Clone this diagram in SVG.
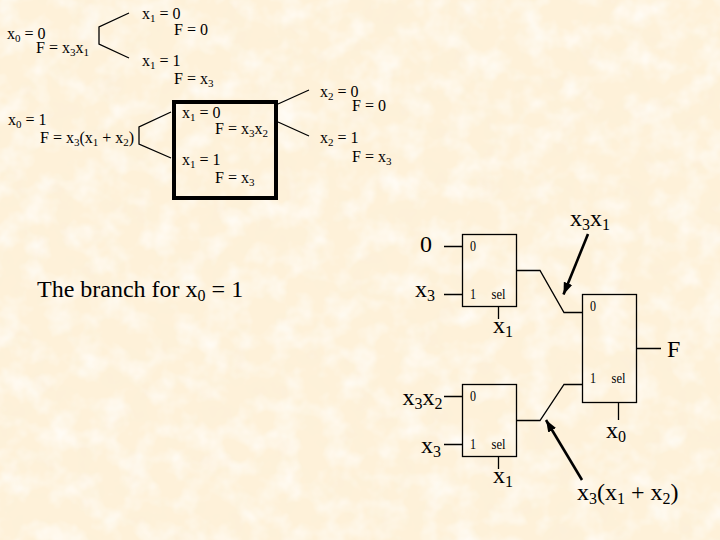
<svg xmlns="http://www.w3.org/2000/svg" width="720" height="540" viewBox="0 0 720 540">
<defs>
<style>
text{font-family:"Liberation Serif","Times New Roman",serif;fill:#000}
.s{font-size:16px}.l{font-size:24px}.t{font-size:14px}
.w{fill:none;stroke:#000;stroke-width:1.3}
.b{fill:none;stroke:#000;stroke-width:1.3}
.a{stroke:#000;stroke-width:2.6;fill:none;marker-end:url(#ah)}
</style>
<marker id="ah" markerUnits="userSpaceOnUse" markerWidth="14" markerHeight="14" refX="12" refY="5" orient="auto"><path d="M0 0.5L12 5L0 9.5Z" fill="#000"/></marker>
<filter id="dark" x="0" y="0" width="100%" height="100%"><feTurbulence type="fractalNoise" baseFrequency="0.04" numOctaves="3" seed="4"/><feColorMatrix values="0 0 0 0 0.97  0 0 0 0 0.87  0 0 0 0 0.7  1.6 0 0 0 -0.65"/></filter>
<filter id="light" x="0" y="0" width="100%" height="100%"><feTurbulence type="fractalNoise" baseFrequency="0.04" numOctaves="3" seed="11"/><feColorMatrix values="0 0 0 0 1  0 0 0 0 0.98  0 0 0 0 0.94  1.8 0 0 0 -0.75"/></filter>
</defs>
<rect width="720" height="540" fill="#fef1d9"/>
<rect width="720" height="540" filter="url(#dark)"/>
<rect width="720" height="540" filter="url(#light)"/>

<g id="tree">
<text class="s" x="7" y="39">x<tspan font-size="11" dy="3">0</tspan><tspan dy="-3"> = 0</tspan></text>
<text class="s" x="36" y="52.5">F = x<tspan font-size="11" dy="3">3</tspan><tspan dy="-3">x</tspan><tspan font-size="11" dy="3">1</tspan></text>
<text class="s" x="142" y="18.5">x<tspan font-size="11" dy="3">1</tspan><tspan dy="-3"> = 0</tspan></text>
<text class="s" x="174" y="34.5">F = 0</text>
<text class="s" x="142" y="66">x<tspan font-size="11" dy="3">1</tspan><tspan dy="-3"> = 1</tspan></text>
<text class="s" x="174" y="83.5">F = x<tspan font-size="11" dy="3">3</tspan></text>
<text class="s" x="8" y="124.5">x<tspan font-size="11" dy="3">0</tspan><tspan dy="-3"> = 1</tspan></text>
<text class="s" x="40" y="142.5">F = x<tspan font-size="11" dy="3">3</tspan><tspan dy="-3">(x</tspan><tspan font-size="11" dy="3">1</tspan><tspan dy="-3"> + x</tspan><tspan font-size="11" dy="3">2</tspan><tspan dy="-3">)</tspan></text>
<text class="s" x="182" y="117.5">x<tspan font-size="11" dy="3">1</tspan><tspan dy="-3"> = 0</tspan></text>
<text class="s" x="215" y="134">F = x<tspan font-size="11" dy="3">3</tspan><tspan dy="-3">x</tspan><tspan font-size="11" dy="3">2</tspan></text>
<text class="s" x="182" y="165">x<tspan font-size="11" dy="3">1</tspan><tspan dy="-3"> = 1</tspan></text>
<text class="s" x="215" y="183">F = x<tspan font-size="11" dy="3">3</tspan></text>
<text class="s" x="320" y="96.5">x<tspan font-size="11" dy="3">2</tspan><tspan dy="-3"> = 0</tspan></text>
<text class="s" x="352" y="111">F = 0</text>
<text class="s" x="320" y="142.5">x<tspan font-size="11" dy="3">2</tspan><tspan dy="-3"> = 1</tspan></text>
<text class="s" x="352" y="161.5">F = x<tspan font-size="11" dy="3">3</tspan></text>
<rect x="174" y="102" width="102" height="96" fill="none" stroke="#000" stroke-width="4"/>
</g>

<g id="caption"><text class="l" x="37" y="297">The branch for x<tspan font-size="16" dy="4">0</tspan><tspan dy="-4"> = 1</tspan></text></g>

<g id="mux-top">
<rect class="b" x="462.5" y="234.5" width="54" height="72"/>
<text class="t" x="470" y="251" textLength="6" lengthAdjust="spacingAndGlyphs">0</text>
<text class="t" x="470" y="299" textLength="6" lengthAdjust="spacingAndGlyphs">1</text>
<text class="t" x="491.5" y="299" textLength="14" lengthAdjust="spacingAndGlyphs">sel</text>
</g>
<g id="mux-bottom">
<rect class="b" x="462.5" y="384.5" width="54" height="72"/>
<text class="t" x="470" y="401" textLength="6" lengthAdjust="spacingAndGlyphs">0</text>
<text class="t" x="470" y="449" textLength="6" lengthAdjust="spacingAndGlyphs">1</text>
<text class="t" x="491.5" y="449" textLength="14" lengthAdjust="spacingAndGlyphs">sel</text>
</g>
<g id="mux-out">
<rect class="b" x="582.5" y="294.5" width="54" height="108"/>
<text class="t" x="590" y="311" textLength="6" lengthAdjust="spacingAndGlyphs">0</text>
<text class="t" x="590" y="383" textLength="6" lengthAdjust="spacingAndGlyphs">1</text>
<text class="t" x="611.5" y="383" textLength="14" lengthAdjust="spacingAndGlyphs">sel</text>
</g>

<g id="labels">
<text class="l" x="420" y="252">0</text>
<text class="l" x="415" y="297">x<tspan font-size="16" dy="4">3</tspan></text>
<text class="l" x="493" y="332.5">x<tspan font-size="16" dy="4">1</tspan></text>
<text class="l" x="570" y="225.5">x<tspan font-size="16" dy="4">3</tspan><tspan dy="-4">x</tspan><tspan font-size="16" dy="4">1</tspan></text>
<text class="l" x="667" y="357">F</text>
<text class="l" x="402.5" y="405">x<tspan font-size="16" dy="4">3</tspan><tspan dy="-4">x</tspan><tspan font-size="16" dy="4">2</tspan></text>
<text class="l" x="421" y="453">x<tspan font-size="16" dy="4">3</tspan></text>
<text class="l" x="493" y="482.5">x<tspan font-size="16" dy="4">1</tspan></text>
<text class="l" x="606" y="437.5">x<tspan font-size="16" dy="4">0</tspan></text>
<text class="l" x="577" y="500">x<tspan font-size="16" dy="4">3</tspan><tspan dy="-4">(x</tspan><tspan font-size="16" dy="4">1</tspan><tspan dy="-4"> + x</tspan><tspan font-size="16" dy="4">2</tspan><tspan dy="-4">)</tspan></text>
</g>

<g id="connectors">
<path class="w" d="M129 13L99 27V44L129 58"/>
<path class="w" d="M171 112L139 127V144L171 158"/>
<path class="w" d="M278 104L309 90M278 122L309 136"/>
<path class="w" d="M444 246.5H462M444 294.5H462M498.5 307V319"/>
<path class="w" d="M444 396.5H462M444 444.5H462M498.5 457V469"/>
<path class="w" d="M517 270.5H540L564 312.5H582"/>
<path class="w" d="M517 420.5H540L564 384.5H582"/>
<path class="w" d="M637 348.5H661M618.5 403V420"/>
<path class="a" d="M588 234L563.5 294.5"/>
<path class="a" d="M582 480L546 420"/>
</g>
</svg>
